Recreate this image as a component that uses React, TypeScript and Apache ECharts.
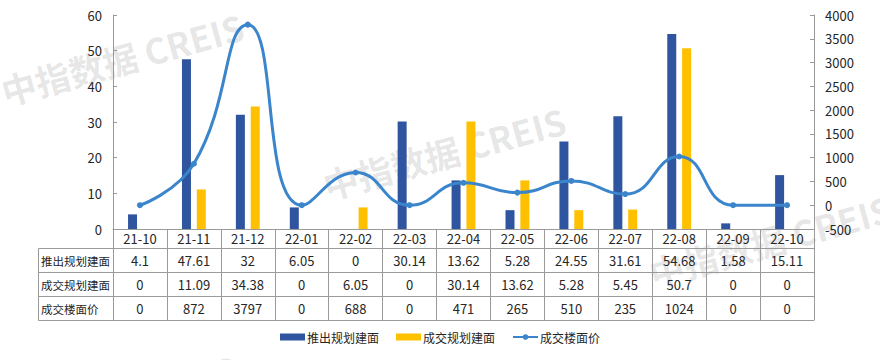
import React, { useEffect, useRef } from "react";
import * as echarts from "echarts";

const categories = ["21-10", "21-11", "21-12", "22-01", "22-02", "22-03", "22-04", "22-05", "22-06", "22-07", "22-08", "22-09", "22-10"];
const launchArea = [4.1, 47.61, 32, 6.05, 0, 30.14, 13.62, 5.28, 24.55, 31.61, 54.68, 1.58, 15.11];
const dealArea = [0, 11.09, 34.38, 0, 6.05, 0, 30.14, 13.62, 5.28, 5.45, 50.7, 0, 0];
const floorPrice = [0, 872, 3797, 0, 688, 0, 471, 265, 510, 235, 1024, 0, 0];
const seriesNames = ["推出规划建面", "成交规划建面", "成交楼面价"];
const watermarkText = "中指数据 CREIS";

const FONT = "'Noto Sans CJK SC', 'Microsoft YaHei', sans-serif";
const BLUE = "#2F55A0";
const YELLOW = "#FFC000";
const LINE = "#3A85CC";
const BORDER = "#9a9a9a";
const TEXT = "#262626";

const GRID_LEFT = 113;
const GRID_RIGHT_X = 814;
const AXIS_Y = 229;
const HEADER_H = 19;
const ROW_H = 24;
const TABLE_LEFT = 38;

export default function App() {
  const ref = useRef<HTMLDivElement>(null);
  useEffect(() => {
    if (!ref.current) return;
    const chart = echarts.init(ref.current, undefined, { renderer: "svg" });
    const rows = [launchArea, dealArea, floorPrice];

    const baseXAxis = {
      type: "category",
      data: categories,
      position: "bottom",
      boundaryGap: true,
      axisLine: { show: true, onZero: false, lineStyle: { color: BORDER, width: 1 } },
      splitLine: { show: false },
    };

    const xAxes: any[] = [
      {
        ...baseXAxis,
        offset: 0,
        axisTick: { show: true, interval: 0, length: HEADER_H, lineStyle: { color: BORDER } },
        axisLabel: { interval: 0, margin: 9.5, verticalAlign: "middle", color: TEXT, fontSize: 13, fontFamily: FONT },
      },
      ...rows.map((row, k) => ({
        ...baseXAxis,
        offset: HEADER_H + k * ROW_H,
        axisTick: { show: true, interval: 0, length: ROW_H, lineStyle: { color: BORDER } },
        axisLabel: {
          interval: 0,
          margin: ROW_H / 2,
          verticalAlign: "middle",
          color: TEXT,
          fontSize: 13,
          fontFamily: FONT,
          formatter: (_v: string, i: number) => String(row[i]),
        },
      })),
      {
        ...baseXAxis,
        offset: HEADER_H + rows.length * ROW_H,
        axisTick: { show: false },
        axisLabel: { show: false },
      },
    ];

    const tableTop = AXIS_Y + HEADER_H;
    const graphic: any[] = [];
    // watermarks
    const marks = [
      [122, 58],
      [444, 152],
      [770, 240],
      [115, 400],
    ];
    marks.forEach(([x, y]) => {
      graphic.push({
        type: "text",
        x,
        y,
        rotation: 0.27,
        z: -10,
        silent: true,
        style: {
          text: watermarkText,
          font: `bold 35px ${FONT}`,
          fill: "rgba(0,0,0,0.11)",
          textAlign: "center",
          textVerticalAlign: "middle",
        },
      });
    });
    // left label column of table
    graphic.push({
      type: "rect",
      z: 5,
      shape: { x: TABLE_LEFT + 0.5, y: tableTop + 0.5, width: GRID_LEFT - TABLE_LEFT, height: ROW_H * rows.length },
      style: { fill: "none", stroke: BORDER, lineWidth: 1 },
    });
    for (let k = 1; k < rows.length; k++) {
      graphic.push({
        type: "line",
        z: 5,
        shape: { x1: TABLE_LEFT, y1: tableTop + k * ROW_H + 0.5, x2: GRID_LEFT, y2: tableTop + k * ROW_H + 0.5 },
        style: { stroke: BORDER, lineWidth: 1 },
      });
    }
    seriesNames.forEach((name, k) => {
      graphic.push({
        type: "text",
        z: 5,
        x: TABLE_LEFT + 3,
        y: tableTop + k * ROW_H + ROW_H / 2 + 0.5,
        style: {
          text: name,
          font: `11.5px ${FONT}`,
          fill: TEXT,
          textAlign: "left",
          textVerticalAlign: "middle",
        },
      });
    });

    const yAxisStyle = {
      type: "value",
      axisLine: { show: true, lineStyle: { color: BORDER } },
      axisTick: { show: true, inside: true, length: 4, lineStyle: { color: BORDER } },
      splitLine: { show: false },
      axisLabel: { color: TEXT, fontSize: 13, fontFamily: FONT, margin: 11, formatter: (v: number) => String(v) },
    };

    chart.setOption({
      animation: false,
      backgroundColor: "#ffffff",
      textStyle: { fontFamily: FONT },
      grid: { left: GRID_LEFT, right: 880 - GRID_RIGHT_X, top: 15, bottom: 360 - AXIS_Y, containLabel: false },
      legend: {
        left: "center",
        top: 326,
        itemWidth: 25,
        itemHeight: 7,
        itemGap: 17,
        textStyle: { fontSize: 12, color: TEXT, fontFamily: FONT, padding: [0, 0, 0, -3] },
        data: [
          { name: seriesNames[0], icon: "rect" },
          { name: seriesNames[1], icon: "rect" },
          { name: seriesNames[2] },
        ],
      },
      xAxis: xAxes,
      yAxis: [
        { ...yAxisStyle, position: "left", min: 0, max: 60, interval: 10 },
        { ...yAxisStyle, position: "right", min: -500, max: 4000, interval: 500 },
      ],
      graphic,
      series: [
        {
          name: seriesNames[0],
          type: "bar",
          xAxisIndex: 0,
          yAxisIndex: 0,
          data: launchArea,
          barWidth: 9,
          barGap: "65%",
          itemStyle: { color: BLUE },
        },
        {
          name: seriesNames[1],
          type: "bar",
          xAxisIndex: 0,
          yAxisIndex: 0,
          data: dealArea,
          barWidth: 9,
          barGap: "65%",
          itemStyle: { color: YELLOW },
        },
        {
          name: seriesNames[2],
          type: "line",
          xAxisIndex: 0,
          yAxisIndex: 1,
          data: floorPrice,
          smooth: 0.5,
          symbol: "circle",
          symbolSize: 6,
          lineStyle: { color: LINE, width: 3 },
          itemStyle: { color: LINE },
          z: 4,
        },
      ],
    });
    return () => chart.dispose();
  }, []);
  return (
    <div
      ref={ref}
      style={{ position: "fixed", left: 0, top: 0, width: 880, height: 360, background: "#fff" }}
    />
  );
}
